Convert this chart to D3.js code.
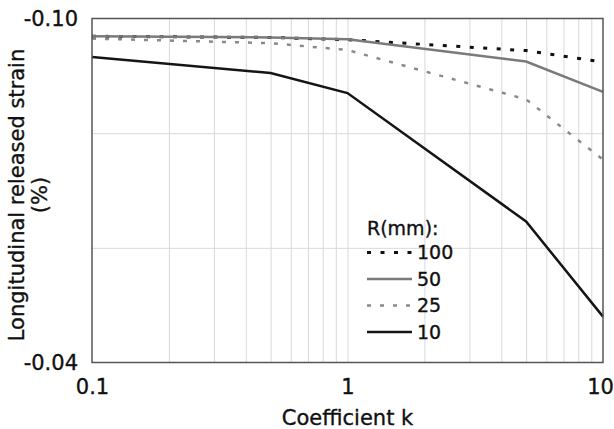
<!DOCTYPE html>
<html>
<head>
<meta charset="utf-8">
<script src="https://cdn.jsdelivr.net/npm/d3@7"></script>
<style>
  body { margin: 0; background: #fff; }
  text { font-family: "DejaVu Sans", Verdana, sans-serif; fill: #111; stroke: #111; stroke-width: 0.35px; }
</style>
</head>
<body>
<div id="root"></div>
<script>
// coefficient k values (x) and released strain per radius
var kValues = [0.1, 0.5, 1, 5, 10];
var r100 = [-0.0969, -0.0967, -0.0963, -0.0944, -0.0924];
var r50 = [-0.0969, -0.0967, -0.0964, -0.0925, -0.0872];
var r25 = [-0.0965, -0.0957, -0.0945, -0.0859, -0.0754];
var r10 = [-0.0933, -0.0905, -0.0870, -0.0646, -0.0480];
var seriesNames = ["100", "50", "25", "10"];
var xTicks = [0.1, 1, 10];
var xMinor = [0.2, 0.3, 0.4, 0.5, 0.6, 0.7, 0.8, 0.9, 2, 3, 4, 5, 6, 7, 8, 9];
var yTicks = [-0.10, -0.04];
var yGrid = [-0.08, -0.06];

var w = 614, h = 429;
var margin = {top: 18.5, right: 11, bottom: 66.5, left: 92};
var iw = w - margin.left - margin.right;
var ih = h - margin.top - margin.bottom;

var styles = [
  {color: "#111", width: 3, dash: "4,9.5"},
  {color: "#7a7a7a", width: 2.5, dash: null},
  {color: "#8a8a8a", width: 2.5, dash: "4,9"},
  {color: "#151515", width: 2.5, dash: null}
];
var allSeries = [r100, r50, r25, r10];

var svg = d3.select("#root").append("svg").attr("width", w).attr("height", h);

var x = d3.scaleLog().domain([0.1, 10]).range([0, iw]);
var y = d3.scaleLinear().domain([-0.10, -0.04]).range([0, ih]);

var g = svg.append("g").attr("transform", "translate(" + margin.left + "," + margin.top + ")");

// grid lines
g.append("g").attr("class", "gridX")
  .call(d3.axisBottom(x).tickValues(xMinor.concat([1])).tickSize(ih).tickFormat(""))
  .call(function(s) {
    s.select(".domain").remove();
    s.selectAll("line").attr("stroke", "#d9d9d9").attr("stroke-width", 1);
  });
g.append("g").attr("class", "gridY")
  .call(d3.axisRight(y).tickValues(yGrid).tickSize(iw).tickFormat(""))
  .call(function(s) {
    s.select(".domain").remove();
    s.selectAll("line").attr("stroke", "#d9d9d9").attr("stroke-width", 1);
  });

// lines
var line = d3.line()
  .x(function(d, i) { return x(kValues[i]); })
  .y(function(d) { return y(d); });

allSeries.forEach(function(s, i) {
  g.append("path").datum(s)
    .attr("d", line)
    .attr("fill", "none")
    .attr("stroke", styles[i].color)
    .attr("stroke-width", styles[i].width)
    .attr("stroke-dasharray", styles[i].dash);
});

// frame
g.append("rect").attr("width", iw).attr("height", ih)
  .attr("fill", "none").attr("stroke", "#555").attr("stroke-width", 1.5);

// axes
g.append("g").attr("transform", "translate(0," + ih + ")")
  .call(d3.axisBottom(x).tickValues(xTicks).tickSize(0).tickPadding(16.5)
    .tickFormat(function(d) { return String(d); }))
  .call(function(s) {
    s.select(".domain").remove();
    s.selectAll("text").style("font-size", "21px").attr("fill", "#111")
      .style("font-family", "DejaVu Sans, sans-serif");
    // keep the last label inside the window
    s.selectAll("text").filter(function(d) { return d === 10; }).attr("x", -3);
  });

g.append("g")
  .call(d3.axisLeft(y).tickValues(yTicks).tickSize(0).tickPadding(14)
    .tickFormat(function(d) { return d.toFixed(2); }))
  .call(function(s) {
    s.select(".domain").remove();
    s.selectAll("text").style("font-size", "21px").attr("fill", "#111")
      .style("font-family", "DejaVu Sans, sans-serif");
  });

// axis titles
svg.append("text").attr("x", margin.left + iw / 2).attr("y", 425)
  .attr("text-anchor", "middle").style("font-size", "21px").text("Coefficient k");

var yt = svg.append("text").attr("transform", "translate(0,195) rotate(-90)")
  .attr("text-anchor", "middle").style("font-size", "21px");
yt.append("tspan").attr("x", 0).attr("y", 24).text("Longitudinal released strain");
yt.append("tspan").attr("x", 0).attr("y", 47).text("(%)");

// legend
var lg = svg.append("g").attr("transform", "translate(367,0)");
lg.append("text").attr("x", 0).attr("y", 235).style("font-size", "19px").text("R(mm):");
seriesNames.forEach(function(n, i) {
  var cy = 252.5 + i * 26.5;
  lg.append("line").attr("x1", 0).attr("x2", 45).attr("y1", cy).attr("y2", cy)
    .attr("stroke", styles[i].color)
    .attr("stroke-width", styles[i].width)
    .attr("stroke-dasharray", styles[i].dash);
  lg.append("text").attr("x", 50).attr("y", cy).attr("dy", "0.36em")
    .style("font-size", "19px").text(n);
});
</script>
</body>
</html>
